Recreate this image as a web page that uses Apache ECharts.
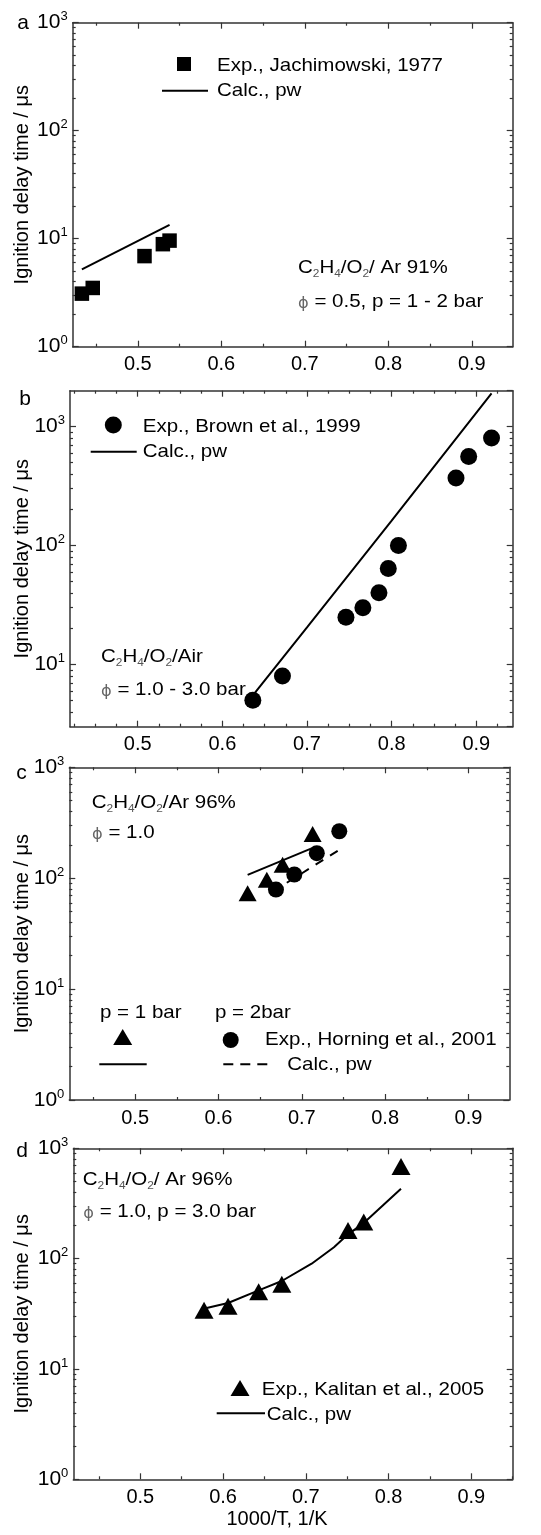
<!DOCTYPE html>
<html><head><meta charset="utf-8">
<script src="https://cdn.jsdelivr.net/npm/echarts@6/dist/echarts.min.js"></script>
<style>html,body{margin:0;padding:0;background:#fff}#c{width:541px;height:1535px}</style>
</head><body><div id="c"></div>
<script>
// ---------- data ----------
// panel a: Jachimowski 1977
const aExpX = [0.433, 0.446, 0.508, 0.530, 0.538];
const aExpY = [3.1, 3.5, 6.9, 8.9, 9.6];
const aCalcX = [0.433, 0.538];
const aCalcY = [5.2, 13.4];
// panel b: Brown et al. 1999
const bExpX = [0.636, 0.671, 0.746, 0.766, 0.785, 0.796, 0.808, 0.876, 0.891, 0.918];
const bExpY = [5.0, 8.0, 25, 30, 40, 64, 100, 370, 560, 800];
const bCalcX = [0.636, 0.700, 0.800, 0.918];
const bCalcY = [5.5, 20.5, 162, 1900];
// panel c: Horning et al. 2001 (p = 1 bar triangles, p = 2 bar circles)
const c1ExpX = [0.635, 0.658, 0.677, 0.713];
const c1ExpY = [73, 97, 132, 250];
const c2ExpX = [0.669, 0.691, 0.718, 0.745];
const c2ExpY = [79, 108, 168, 265];
const c1CalcX = [0.635, 0.711];
const c1CalcY = [107, 185];
const c2CalcX = [0.682, 0.745];
const c2CalcY = [91, 180];
// panel d: Kalitan et al. 2005
const dExpX = [0.577, 0.606, 0.643, 0.671, 0.751, 0.770, 0.815];
const dExpY = [34, 37, 50, 58.5, 180, 215, 685];
const dCalcX = [0.575, 0.606, 0.643, 0.671, 0.707, 0.734, 0.751, 0.770, 0.815];
const dCalcY = [35, 39.6, 51.6, 62.7, 90, 127, 166, 210, 430];
// tick labels
const xTickLabels = [0.5, 0.6, 0.7, 0.8, 0.9];
const yTickLabels = [1, 10, 100, 1000];

// ---------- styling ----------
const FONT = 'Liberation Sans, Arial, Helvetica, sans-serif';
const INK = '#000';
const AXC = '#333';
const pairs = (xs, ys) => xs.map((x, i) => [x, ys[i]]);

const panels = [
  { grid: {left: 72.7, top: 22.7, width: 440, height: 324}, x: [0.422, 0.949], y: [1, 1000], xStep: 0.05,
    series: [
      {name: 'Exp., Jachimowski, 1977', type: 'scatter', symbol: 'rect', symbolSize: 14.5, data: pairs(aExpX, aExpY)},
      {name: 'Calc., pw', type: 'line', data: pairs(aCalcX, aCalcY)}
    ]},
  { grid: {left: 70, top: 390.7, width: 442.7, height: 336}, x: [0.420, 0.943], y: [3, 2000], xStep: 0.025,
    series: [
      {name: 'Exp., Brown et al., 1999', type: 'scatter', symbol: 'circle', symbolSize: 17, data: pairs(bExpX, bExpY)},
      {name: 'Calc., pw', type: 'line', data: pairs(bCalcX, bCalcY)}
    ]},
  { grid: {left: 69.3, top: 767.3, width: 440, height: 332.7}, x: [0.421, 0.949], y: [1, 1000], xStep: 0.05,
    series: [
      {name: 'Calc., pw (1 bar)', type: 'line', data: pairs(c1CalcX, c1CalcY)},
      {name: 'Calc., pw (2 bar)', type: 'line', dashed: true, data: pairs(c2CalcX, c2CalcY)},
      {name: 'Exp., Horning et al., 2001 (1 bar)', type: 'scatter', symbol: 'triangle', symbolSize: [18, 16], data: pairs(c1ExpX, c1ExpY)},
      {name: 'Exp., Horning et al., 2001 (2 bar)', type: 'scatter', symbol: 'circle', symbolSize: 16, data: pairs(c2ExpX, c2ExpY)}
    ]},
  { grid: {left: 73.3, top: 1148.3, width: 439.4, height: 331}, x: [0.419, 0.950], y: [1, 1000], xStep: 0.05,
    xName: '1000/T, 1/K',
    series: [
      {name: 'Exp., Kalitan et al., 2005', type: 'scatter', symbol: 'triangle', symbolSize: [19, 17], data: pairs(dExpX, dExpY)},
      {name: 'Calc., pw', type: 'line', data: pairs(dCalcX, dCalcY)}
    ]}
];

function xMinor(range, step) {
  const out = [];
  for (let k = Math.ceil(range[0] / step - 1e-9); k * step <= range[1] + 1e-9; k++) {
    const v = Math.round(k * step * 10000) / 10000;
    if (Math.abs(v * 10 - Math.round(v * 10)) < 1e-6) continue;
    out.push(v);
  }
  return out;
}
function yMinorLog(lo, hi) {
  const out = [];
  for (let e = -1; e <= 4; e++) for (let m = 2; m <= 9; m++) {
    const v = m * Math.pow(10, e);
    if (v > lo * 1.0001 && v < hi * 0.9999) out.push(Math.log10(v));
  }
  return out;
}

const lineSt = {color: AXC, width: 1.5};
const tickSt = {color: AXC, width: 1.2};
const grids = [], xAxes = [], yAxes = [], series = [];

panels.forEach((p, gi) => {
  grids.push(Object.assign({outerBoundsMode: 'none', containLabel: false}, p.grid));
  const xb = {gridIndex: gi, type: 'value', min: p.x[0], max: p.x[1], splitLine: {show: false}, nameMoveOverlap: false};
  const xMin = xMinor(p.x, p.xStep);
  const xMainIdx = xAxes.length;
  xAxes.push(Object.assign({}, xb, {
    position: 'bottom',
    axisLine: {show: true, onZero: false, lineStyle: lineSt},
    axisTick: {show: true, inside: true, length: 6, customValues: xTickLabels, lineStyle: tickSt},
    axisLabel: {show: true, customValues: xTickLabels, margin: 8, formatter: v => Number(v).toFixed(1),
      fontSize: 20, fontFamily: FONT, color: INK},
    name: p.xName || '', nameLocation: 'middle', nameGap: 30,
    nameTextStyle: {fontSize: 20, fontFamily: FONT, color: INK, padding: [0, 32, 0, 0]}
  }));
  xAxes.push(Object.assign({}, xb, {position: 'bottom', axisLine: {show: false, onZero: false},
    axisTick: {show: true, inside: true, length: 3, customValues: xMin, lineStyle: tickSt}, axisLabel: {show: false}}));
  xAxes.push(Object.assign({}, xb, {position: 'top', axisLine: {show: true, onZero: false, lineStyle: lineSt},
    axisTick: {show: true, inside: true, length: 6, customValues: xTickLabels, lineStyle: tickSt}, axisLabel: {show: false}}));
  xAxes.push(Object.assign({}, xb, {position: 'top', axisLine: {show: false, onZero: false},
    axisTick: {show: true, inside: true, length: 3, customValues: xMin, lineStyle: tickSt}, axisLabel: {show: false}}));

  const lo = p.y[0], hi = p.y[1];
  const edgeLabels = yTickLabels.indexOf(lo) >= 0;
  const yMainIdx = yAxes.length;
  yAxes.push({
    gridIndex: gi, type: 'log', logBase: 10, min: lo, max: hi, position: 'left', splitLine: {show: false},
    axisLine: {show: true, onZero: false, lineStyle: lineSt},
    axisTick: {show: true, inside: true, length: 6, lineStyle: tickSt},
    axisLabel: {show: true, margin: 5, showMinLabel: edgeLabels, showMaxLabel: edgeLabels,
      formatter: v => '{b|10}{s|' + Math.round(Math.log10(v)) + '}',
      rich: {
        b: {fontSize: 21, fontFamily: FONT, color: INK, lineHeight: 22},
        s: {fontSize: 13, fontFamily: FONT, color: INK, lineHeight: 12, padding: [0, 0, 12, 0]}
      }},
    name: 'Ignition delay time / \u03bcs', nameLocation: 'middle', nameGap: p.grid.left - 32, nameMoveOverlap: false,
    nameTextStyle: {fontSize: 20, fontFamily: FONT, color: INK}
  });
  const ovl = {gridIndex: gi, type: 'value', min: Math.log10(lo), max: Math.log10(hi), splitLine: {show: false},
    axisLabel: {show: false}};
  yAxes.push(Object.assign({}, ovl, {position: 'left', axisLine: {show: false, onZero: false},
    axisTick: {show: true, inside: true, length: 3, customValues: yMinorLog(lo, hi), lineStyle: tickSt}}));
  yAxes.push({gridIndex: gi, type: 'log', logBase: 10, min: lo, max: hi, position: 'right', splitLine: {show: false},
    axisLine: {show: true, onZero: false, lineStyle: lineSt},
    axisTick: {show: true, inside: true, length: 6, lineStyle: tickSt}, axisLabel: {show: false}});
  yAxes.push(Object.assign({}, ovl, {position: 'right', axisLine: {show: false, onZero: false},
    axisTick: {show: true, inside: true, length: 3, customValues: yMinorLog(lo, hi), lineStyle: tickSt}}));

  p.series.forEach(s => {
    const o = {name: s.name, type: s.type, data: s.data, xAxisIndex: xMainIdx, yAxisIndex: yMainIdx, silent: true};
    if (s.type === 'scatter') {
      Object.assign(o, {symbol: s.symbol, symbolSize: s.symbolSize, itemStyle: {color: '#000', opacity: 1}, z: 3});
    } else {
      Object.assign(o, {symbol: 'none', showSymbol: false, z: 4,
        lineStyle: {color: '#000', width: 2, opacity: 1, type: s.dashed ? [9, 8] : 'solid'}});
    }
    series.push(o);
  });
});

// ---------- legends & annotations (graphic) ----------
const SX = 1.08;
const rich = {
  n: {fontSize: 19, fontFamily: FONT, fill: INK, lineHeight: 22},
  s: {fontSize: 11, fontFamily: FONT, fill: '#555', lineHeight: 10, padding: [11, 0, 0, 0]},
  ph: {fontSize: 15, fontFamily: 'DejaVu Sans', fill: '#666', lineHeight: 14, padding: [4, 0, 0, 0]}
};
function txt(x, y, t) {
  return {type: 'text', x: x, y: y, scaleX: SX, silent: true,
    style: {text: t, rich: rich, fontSize: 19, fontFamily: FONT, fill: INK, align: 'left', verticalAlign: 'middle'}};
}
function plain(x, y, t) { return txt(x, y, '{n|' + t + '}'); }
function letter(x, y, t) {
  return {type: 'text', x: x, y: y, silent: true,
    style: {text: t, fontSize: 21, fontFamily: FONT, fill: INK, align: 'center', verticalAlign: 'middle'}};
}
const blk = {fill: '#000'};
function seg(x1, x2, y, dash) {
  return {type: 'line', silent: true, shape: {x1: x1, y1: y, x2: x2, y2: y},
    style: {stroke: '#000', lineWidth: 2, lineDash: dash || null}};
}
function tri(cx, cy, w, h) {
  return {type: 'polygon', silent: true, shape: {points: [[cx, cy - h / 2], [cx + w / 2, cy + h / 2], [cx - w / 2, cy + h / 2]]}, style: blk};
}
function dot(cx, cy, r) { return {type: 'circle', silent: true, shape: {cx: cx, cy: cy, r: r}, style: blk}; }
function sq(cx, cy, s) { return {type: 'rect', silent: true, shape: {x: cx - s / 2, y: cy - s / 2, width: s, height: s}, style: blk}; }

const formula = tail => '{n|C}{s|2}{n|H}{s|4}{n|/O}{s|2}{n|' + tail + '}';
const graphics = [
  letter(23, 23.5, 'a'), letter(25, 399, 'b'), letter(21.5, 773, 'c'), letter(22, 1151.5, 'd'),
  // a
  sq(184, 64, 14), plain(217, 66, 'Exp., Jachimowski, 1977'),
  seg(162, 208, 90.7), plain(217, 90.5, 'Calc., pw'),
  txt(298, 268, formula('/ Ar 91%')), txt(298, 302, '{ph|\u03d5}{n| = 0.5, p = 1 - 2 bar}'),
  // b
  dot(113.3, 425, 8.5), plain(142.7, 427, 'Exp., Brown et al., 1999'),
  seg(90.7, 136.7, 451.7), plain(142.7, 452, 'Calc., pw'),
  txt(101, 657, formula('/Air')), txt(101, 690, '{ph|\u03d5}{n| = 1.0 - 3.0 bar}'),
  // c
  txt(91.7, 803, formula('/Ar 96%')), txt(92, 833, '{ph|\u03d5}{n| = 1.0}'),
  plain(100, 1013, 'p = 1 bar'), plain(215, 1013, 'p = 2bar'),
  tri(122.7, 1037, 19, 16), dot(230.7, 1040, 8), plain(265, 1040, 'Exp., Horning et al., 2001'),
  seg(99.3, 146.7, 1064.3), seg(223.3, 271.7, 1064.3, [10, 7]), plain(287.3, 1065, 'Calc., pw'),
  // d
  txt(82.7, 1180, formula('/ Ar 96%')), txt(83.3, 1212, '{ph|\u03d5}{n| = 1.0, p = 3.0 bar}'),
  tri(240, 1388, 19, 16), plain(261.7, 1390, 'Exp., Kalitan et al., 2005'),
  seg(216.7, 265, 1413.3), plain(266.7, 1415, 'Calc., pw')
];

const chart = echarts.init(document.getElementById('c'), null, {renderer: 'canvas'});
chart.setOption({
  backgroundColor: '#fff',
  animation: false,
  grid: grids, xAxis: xAxes, yAxis: yAxes, series: series,
  graphic: {elements: graphics}
});
</script></body></html>
